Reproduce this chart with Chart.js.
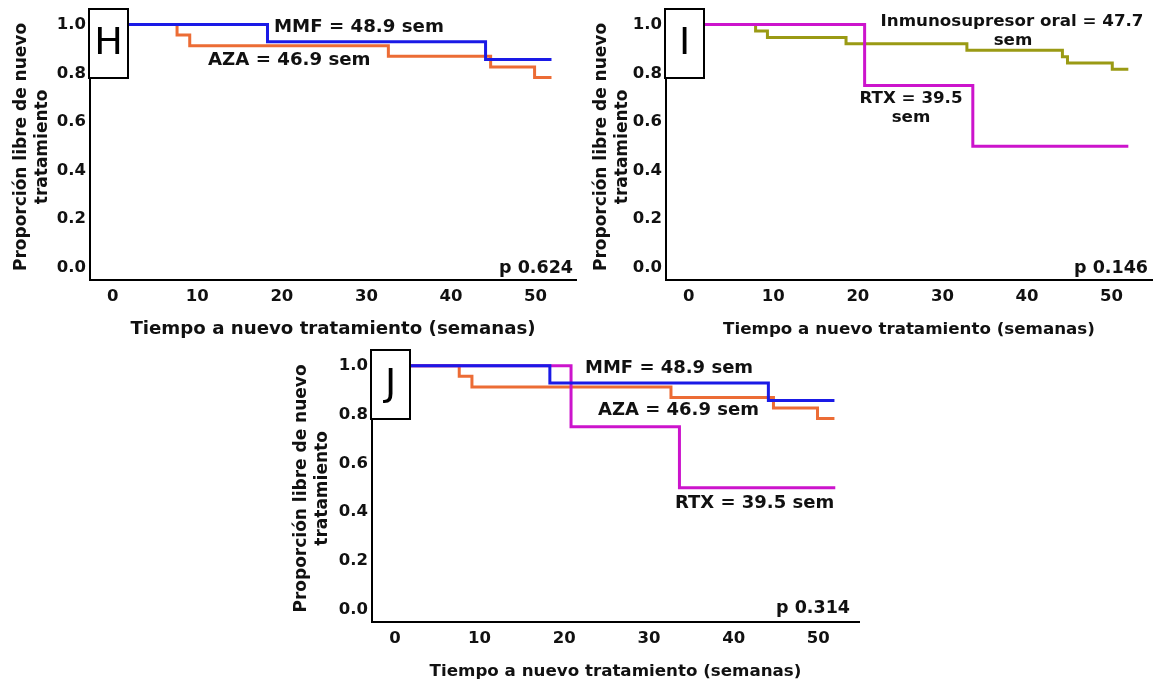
<!DOCTYPE html>
<html>
<head>
<meta charset="utf-8">
<script src="https://cdn.jsdelivr.net/npm/chart.js@4.4.1/dist/chart.umd.min.js"></script>
<style>
  html, body { margin: 0; padding: 0; background: #fff; }
  body { position: relative; width: 1156px; height: 687px; overflow: hidden; }
  canvas { position: absolute; }
</style>
</head>
<body>
<canvas id="chartH" width="580" height="345" style="left:0;top:0"></canvas>
<canvas id="chartI" width="576" height="345" style="left:580px;top:0"></canvas>
<canvas id="chartJ" width="600" height="346" style="left:280px;top:341px"></canvas>
<script>
// axis ticks
const xTicks = [0, 10, 20, 30, 40, 50];
const yTicks = [0, 0.2, 0.4, 0.6, 0.8, 1.0];

// Kaplan-Meier curves: weeks of each step and proportion after it
const mmfWeeks = [0, 18.3, 44.1, 51.9];
const mmfProp = [1, 0.929, 0.857, 0.857];

const azaWeeks = [0, 7.6, 9.1, 32.6, 44.7, 49.9, 51.9];
const azaProp = [1, 0.957, 0.913, 0.870, 0.826, 0.783, 0.783];

const rtxWeeks = [0, 20.8, 33.6, 52.0];
const rtxProp = [1, 0.75, 0.5, 0.5];

const oralWeeks = [0, 7.9, 9.3, 18.6, 32.9, 44.2, 44.8, 50.1, 52.0];
const oralProp = [1, 0.974, 0.947, 0.921, 0.895, 0.868, 0.842, 0.816, 0.816];

const FONT = "'DejaVu Sans', 'Liberation Sans', sans-serif";
Chart.defaults.font.family = FONT;
Chart.defaults.color = '#111';

function km(weeks, props) {
  return weeks.map((w, i) => ({ x: w, y: props[i] }));
}

const curves = {
  mmf: { data: km(mmfWeeks, mmfProp), color: '#1a1ae6' },
  aza: { data: km(azaWeeks, azaProp), color: '#ec6c35' },
  rtx: { data: km(rtxWeeks, rtxProp), color: '#cc14cc' },
  oral: { data: km(oralWeeks, oralProp), color: '#9a9a14' }
};

// draws the letter box, curve labels and p value
const decor = {
  id: 'decor',
  afterDraw(chart, args, opts) {
    const ctx = chart.ctx;
    const a = chart.chartArea;
    ctx.save();
    // letter box
    const bx = a.left - 1, by = 9, bw = 39, bh = 69;
    ctx.fillStyle = '#fff';
    ctx.fillRect(bx, by, bw, bh);
    ctx.lineWidth = 2;
    ctx.strokeStyle = '#000';
    ctx.strokeRect(bx, by, bw, bh);
    ctx.fillStyle = '#000';
    ctx.font = '38px ' + FONT;
    ctx.textAlign = 'center';
    ctx.textBaseline = 'middle';
    ctx.fillText(opts.letter, bx + bw / 2, by + bh / 2 + 1);

    ctx.fillStyle = '#111';
    opts.labels.forEach(l => {
      ctx.font = 'bold ' + l.size + 'px ' + FONT;
      ctx.textAlign = l.align;
      ctx.fillText(l.text, l.x, l.y);
    });
    ctx.restore();
  }
};

function makePanel(id, sets, cfg) {
  const el = document.getElementById(id);
  return new Chart(el, {
    type: 'line',
    data: {
      datasets: sets.map(k => ({
        data: curves[k].data,
        borderColor: curves[k].color,
        borderWidth: 3,
        stepped: 'before',
        pointRadius: 0,
        fill: false,
        borderJoinStyle: 'miter',
        borderCapStyle: 'butt'
      }))
    },
    plugins: [decor],
    options: {
      responsive: false,
      animation: false,
      events: [],
      layout: { padding: { left: 0, top: 12, right: cfg.padRight, bottom: 5 } },
      plugins: {
        legend: { display: false },
        tooltip: { enabled: false },
        decor: { letter: cfg.letter, labels: cfg.labels }
      },
      scales: {
        x: {
          type: 'linear',
          min: -2.7,
          max: 54.8,
          afterBuildTicks: s => { s.ticks = xTicks.map(v => ({ value: v })); },
          afterFit: s => { s.height = 60; },
          grid: { display: false, drawTicks: false },
          border: { display: true, color: '#000', width: 2 },
          ticks: { autoSkip: false, maxRotation: 0, padding: 7, font: { size: 16.5, weight: 'bold' } },
          title: {
            display: true,
            text: 'Tiempo a nuevo tratamiento (semanas)',
            font: { size: cfg.xTitleSize, weight: 'bold' },
            padding: { top: 0, bottom: 0 }
          }
        },
        y: {
          type: 'linear',
          min: -0.05,
          max: 1.044,
          afterBuildTicks: s => { s.ticks = yTicks.map(v => ({ value: v })); },
          afterFit: s => { s.width = cfg.yWidth; },
          grid: { display: false, drawTicks: false },
          border: { display: true, color: '#000', width: 2 },
          ticks: { padding: 4, font: { size: 16.5, weight: 'bold' }, callback: v => v.toFixed(1) },
          title: {
            display: true,
            text: ['Proporción libre de nuevo', 'tratamiento'],
            font: { size: 17, weight: 'bold', lineHeight: 1.18 },
            padding: { top: 12, bottom: 0 }
          }
        }
      }
    }
  });
}

makePanel('chartH', ['mmf', 'aza'], {
  letter: 'H', yWidth: 90, padRight: 4, xTitleSize: 18.2,
  labels: [
    { text: 'MMF = 48.9 sem', x: 274, y: 27, align: 'left', size: 18.2 },
    { text: 'AZA = 46.9 sem', x: 208, y: 60, align: 'left', size: 18.2 },
    { text: 'p 0.624', x: 573, y: 268, align: 'right', size: 17.5 }
  ]
});

makePanel('chartI', ['rtx', 'oral'], {
  letter: 'I', yWidth: 86, padRight: 4, xTitleSize: 16.7,
  labels: [
    { text: 'Inmunosupresor oral = 47.7', x: 432, y: 22, align: 'center', size: 16.7 },
    { text: 'sem', x: 433, y: 41, align: 'center', size: 16.7 },
    { text: 'RTX = 39.5', x: 331, y: 99, align: 'center', size: 16.7 },
    { text: 'sem', x: 331, y: 118, align: 'center', size: 16.7 },
    { text: 'p 0.146', x: 568, y: 268, align: 'right', size: 17.5 }
  ]
});

makePanel('chartJ', ['mmf', 'rtx', 'aza'], {
  letter: 'J', yWidth: 92, padRight: 21, xTitleSize: 16.7,
  labels: [
    { text: 'MMF = 48.9 sem', x: 305, y: 27, align: 'left', size: 18 },
    { text: 'AZA = 46.9 sem', x: 318, y: 69, align: 'left', size: 18 },
    { text: 'RTX = 39.5 sem', x: 395, y: 162, align: 'left', size: 18 },
    { text: 'p 0.314', x: 570, y: 267, align: 'right', size: 17.5 }
  ]
});
</script>
</body>
</html>
